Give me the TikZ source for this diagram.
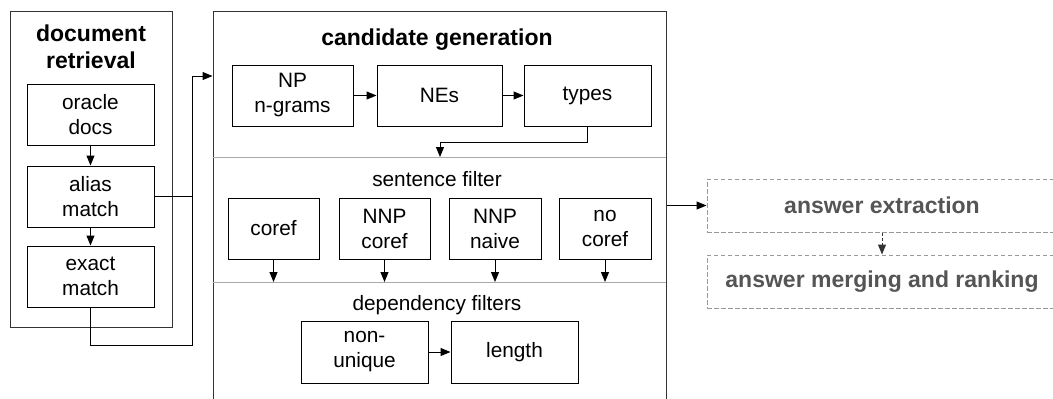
\documentclass[tikz,border=0pt]{standalone}
\usepackage{fontspec}
\setmainfont{Liberation Sans}
\usetikzlibrary{arrows.meta}
\definecolor{divgray}{HTML}{AAAAAA}
\definecolor{dashgray}{HTML}{999999}
\definecolor{anstext}{HTML}{555555}
\definecolor{outer}{HTML}{333333}
\tikzset{
  box/.style={draw=black, line width=1pt, align=center, inner sep=0pt,
    font=\fontsize{20.8}{25}\selectfont},
  outerbox/.style={draw=outer, line width=1pt, inner sep=0pt},
  title/.style={font=\fontsize{23}{27}\bfseries\selectfont, align=center, inner sep=0pt},
  label/.style={font=\fontsize{20.8}{25}\selectfont, inner sep=0pt},
  arr/.style={line width=1pt, -{Triangle[length=10pt,width=8pt]}},
  con/.style={line width=1pt},
  divider/.style={draw=divgray, line width=1pt},
  ansbox/.style={draw=dashgray, line width=1pt, dash pattern=on 4.5pt off 2.5pt,
    inner sep=0pt, text=anstext, font=\fontsize{23}{27}\bfseries\selectfont},
  dasharr/.style={draw=outer, line width=1pt, dash pattern=on 3pt off 2pt,
    -{Triangle[length=10pt,width=8pt]}}
}
\begin{document}
\begin{tikzpicture}[x=1pt,y=-1pt]
\useasboundingbox (0,0) rectangle (1053,399);
\clip (0,0) rectangle (1053,399);
\fill[white] (0,0) rectangle (1053,399);

% document retrieval
\node[outerbox, minimum width=162pt, minimum height=316pt] (docret) at (91,169) {};
\node[title] (doctitle) at (91,47) {document\\retrieval};
\node[box, minimum width=127pt, minimum height=61pt] (oracle) at (90.5,114.5) {oracle\\docs};
\node[box, minimum width=127pt, minimum height=61pt] (alias) at (90.5,196.5) {alias\\match};
\node[box, minimum width=127pt, minimum height=61pt] (exact) at (90.5,276.5) {exact\\match};
\draw[arr] (oracle) -- (alias);
\draw[arr] (alias) -- (exact);

% candidate generation
\node[outerbox, minimum width=453pt, minimum height=420pt] (cand) at (439.5,221) {};
\node[title] (candtitle) at (437,40) {candidate generation};
\node[box, minimum width=121pt, minimum height=61pt] (np) at (292.5,95.5) {NP\\n-grams};
\node[box, minimum width=125pt, minimum height=61pt] (nes) at (439.5,95.5) {NEs};
\node[box, minimum width=127pt, minimum height=61pt] (types) at (587.5,95.5) {types};
\draw[arr] (np) -- (nes);
\draw[arr] (nes) -- (types);

\coordinate (d1l) at (213,157);
\coordinate (d1r) at (666,157);
\draw[divider] (d1l) -- (d1r);
\coordinate (d1m) at (440,157);
\draw[arr] (types.south) -- ++(0,16) -| (d1m);

\node[label] (sentf) at (437,179) {sentence filter};
\node[box, minimum width=91pt, minimum height=61pt] (coref) at (273.5,228.5) {coref};
\node[box, minimum width=91pt, minimum height=61pt] (nnpcoref) at (384.5,228.5) {NNP\\coref};
\node[box, minimum width=92pt, minimum height=61pt] (nnpnaive) at (495,228.5) {NNP\\naive};
\node[box, minimum width=92pt, minimum height=61pt] (nocoref) at (605,228.5) {no\\coref};

\coordinate (d2l) at (213,282);
\coordinate (d2r) at (666,282);
\draw[divider] (d2l) -- (d2r);
\foreach \n in {coref,nnpcoref,nnpnaive,nocoref}
  \draw[arr] (\n.south) -- (\n.south |- d2l);

\node[label] (depf) at (437,305) {dependency filters};
\node[box, minimum width=127pt, minimum height=62pt] (nonu) at (364.5,352) {non-\\unique};
\node[box, minimum width=127pt, minimum height=62pt] (len) at (514.5,352) {length};
\draw[arr] (nonu) -- (len);

% connectors from document retrieval
\coordinate (j) at (192,196.5);
\draw[con] (alias.east) -- (j);
\draw[arr] (j) |- (cand.west |- 0,76);
\draw[con] (exact.south) -- ++(0,38) -| (j);

% answer boxes
\node[ansbox, minimum width=350pt, minimum height=53pt] (ext) at (882,205.5) {answer extraction};
\node[ansbox, minimum width=350pt, minimum height=53pt] (merge) at (882,281.5) {answer merging and ranking};
\draw[arr] (ext.west -| cand.east) -- (ext.west);
\draw[dasharr] (ext) -- (merge);
\end{tikzpicture}
\end{document}
